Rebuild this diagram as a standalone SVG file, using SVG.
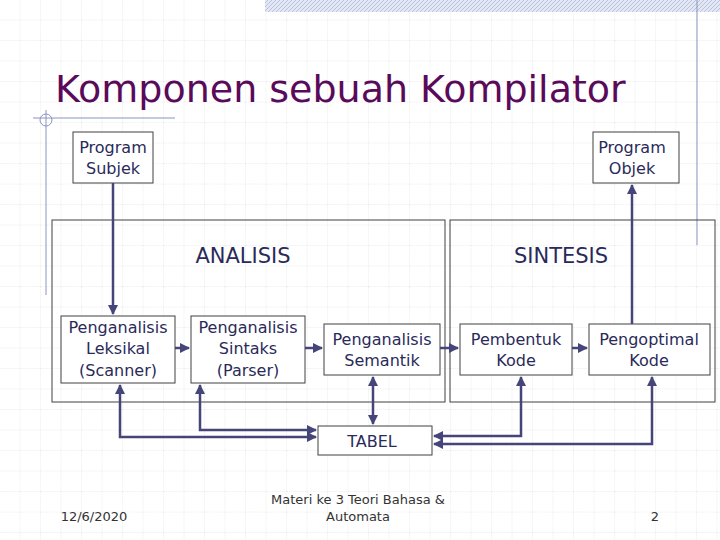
<svg xmlns="http://www.w3.org/2000/svg" width="720" height="540" viewBox="0 0 720 540">
<defs>
<pattern id="grid" width="20.5" height="20.5" patternUnits="userSpaceOnUse"><path d="M20.5 0V20.5H0" fill="none" stroke="#d4d4d4" stroke-width="0.8" stroke-dasharray="1,1"/></pattern>
<pattern id="hatch" width="4" height="4" patternUnits="userSpaceOnUse"><rect width="4" height="4" fill="#e4e8f4"/><path d="M0 4L4 0" stroke="#b8c0dc" stroke-width="1"/></pattern>
<marker id="ah" viewBox="0 0 10 10" refX="9" refY="5" markerWidth="4" markerHeight="4" orient="auto-start-reverse"><path d="M0 0L10 5L0 10z" fill="#45457a"/></marker>
</defs>
<style>
.b{fill:#fff;stroke:#404040;stroke-width:1}
.g{fill:none;stroke:#404040;stroke-width:1}
.t{font-family:"DejaVu Sans",sans-serif;font-size:16px;fill:#2a2a5a;text-anchor:middle}
.h{font-size:21px}
.c{fill:none;stroke:#45457a;stroke-width:2.5}
.f{font-family:"DejaVu Sans",sans-serif;font-size:13px;fill:#333;text-anchor:middle}
</style>
<rect width="720" height="540" fill="#fff"/>
<rect width="720" height="540" fill="url(#grid)"/>
<rect x="265" y="0" width="455" height="12" fill="url(#hatch)"/>
<g stroke="#8a94c0" stroke-width="1" fill="none">
<line x1="697" y1="0" x2="697" y2="245"/>
<line x1="46" y1="110" x2="46" y2="295"/>
<line x1="33" y1="118" x2="175" y2="118"/>
<circle cx="46" cy="120" r="6"/>
</g>
<text x="55" y="102" font-family="DejaVu Sans,sans-serif" font-size="38" fill="#5a0a5a">Komponen sebuah Kompilator</text>
<g id="analisis"><rect class="g" x="52" y="220" width="393" height="182"/><text class="t h" x="243" y="263">ANALISIS</text></g>
<g id="sintesis"><rect class="g" x="450" y="220" width="265" height="182"/><text class="t h" x="561" y="263">SINTESIS</text></g>
<g id="subjek"><rect class="b" x="73" y="132" width="80" height="51"/><text class="t" x="113" y="153">Program</text><text class="t" x="113" y="174">Subjek</text></g>
<g id="objek"><rect class="b" x="593" y="132" width="86" height="51"/><text class="t" x="632" y="153">Program</text><text class="t" x="632" y="174">Objek</text></g>
<g id="leksikal"><rect class="b" x="61" y="316" width="114" height="67"/><text class="t" x="118" y="333">Penganalisis</text><text class="t" x="118" y="354">Leksikal</text><text class="t" x="118" y="376">(Scanner)</text></g>
<g id="sintaks"><rect class="b" x="191" y="316" width="114" height="67"/><text class="t" x="248" y="333">Penganalisis</text><text class="t" x="248" y="354">Sintaks</text><text class="t" x="248" y="376">(Parser)</text></g>
<g id="semantik"><rect class="b" x="324" y="324" width="116" height="51"/><text class="t" x="382" y="345">Penganalisis</text><text class="t" x="382" y="366">Semantik</text></g>
<g id="pembentuk"><rect class="b" x="460" y="324" width="112" height="51"/><text class="t" x="516" y="345">Pembentuk</text><text class="t" x="516" y="366">Kode</text></g>
<g id="pengoptimal"><rect class="b" x="589" y="324" width="121" height="51"/><text class="t" x="649" y="345">Pengoptimal</text><text class="t" x="649" y="366">Kode</text></g>
<g id="tabel"><rect class="b" x="318" y="426" width="114" height="29"/><text class="t" x="372" y="447">TABEL</text></g>
<g id="connectors">
<path class="c" d="M113 183V314" stroke-width="3.5" marker-end="url(#ah)"/>
<path class="c" d="M632 324V185" stroke-width="3.5" marker-end="url(#ah)"/>
<path class="c" d="M175 348H189" marker-end="url(#ah)"/>
<path class="c" d="M305 348H322" marker-end="url(#ah)"/>
<path class="c" d="M440 348H458" marker-end="url(#ah)"/>
<path class="c" d="M572 348H587" marker-end="url(#ah)"/>
<path class="c" d="M120 385V437H316" marker-start="url(#ah)" marker-end="url(#ah)"/>
<path class="c" d="M200 385V430H316" marker-start="url(#ah)" marker-end="url(#ah)"/>
<path class="c" d="M373 377V424" marker-start="url(#ah)" marker-end="url(#ah)"/>
<path class="c" d="M521 377V436H434" marker-start="url(#ah)" marker-end="url(#ah)"/>
<path class="c" d="M652 377V444H434" marker-start="url(#ah)" marker-end="url(#ah)"/>
</g>
<text class="f" x="94" y="521">12/6/2020</text>
<text class="f" x="358" y="504">Materi ke 3 Teori Bahasa &amp;</text>
<text class="f" x="358" y="521">Automata</text>
<text class="f" x="655" y="521">2</text>
</svg>
